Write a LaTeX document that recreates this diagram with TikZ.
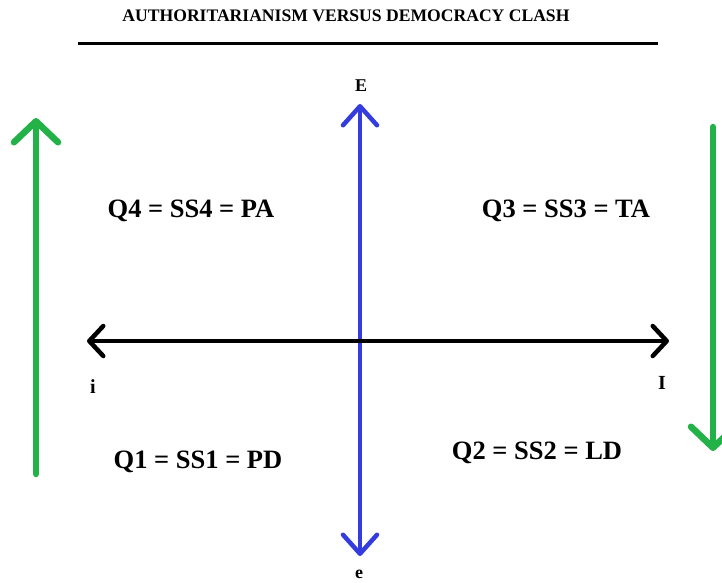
\documentclass[tikz,border=0pt]{standalone}
\usepackage{fontspec}
\setmainfont{Liberation Serif}
\usetikzlibrary{arrows.meta}
\definecolor{arrgreen}{RGB}{34,178,72}
\definecolor{arrblue}{RGB}{52,60,222}
\tikzset{
  lbl/.style={font=\fontsize{26.5}{30}\selectfont\bfseries, inner sep=0pt},
  axlbl/.style={font=\fontsize{18}{20}\selectfont\bfseries, inner sep=0pt},
  greenarr/.style={draw=arrgreen, line width=6.5pt, line cap=round, -{Straight Barb[length=21pt,width=44pt,line cap=round,line join=round]}},
  bluearr/.style={draw=arrblue, line width=4.5pt, line cap=round, {Straight Barb[length=19pt,width=34pt,line cap=round,line join=round]}-{Straight Barb[length=19pt,width=34pt,line cap=round,line join=round]}},
  blackarr/.style={draw=black, line width=4.5pt, line cap=round, {Straight Barb[length=14pt,width=30pt,line cap=round,line join=round]}-{Straight Barb[length=14pt,width=30pt,line cap=round,line join=round]}}
}
\begin{document}
\begin{tikzpicture}[x=1pt,y=-1pt]
\useasboundingbox (0,0) rectangle (722,582);
\node[font=\fontsize{17.6}{20}\selectfont\bfseries, inner sep=0pt] (title) at (346,16) {AUTHORITARIANISM VERSUS DEMOCRACY CLASH};
\coordinate (ruleL) at (78,43);
\coordinate (ruleR) at (658,43);
\draw[line width=3pt] (ruleL) -- (ruleR);

\coordinate (gLb) at (36,474);
\coordinate (gLt) at (36,118);
\draw[greenarr] (gLb) -- (gLt);

\coordinate (gRt) at (713,127);
\coordinate (gRb) at (713,451);
\draw[greenarr] (gRt) -- (gRb);

\node[axlbl] (E) at (361,86) {E};
\node[axlbl] (e) at (359,574) {e};
\coordinate (vT) at (360,104);
\coordinate (vB) at (360,556);
\draw[bluearr] (vB) -- (vT);

\node[axlbl, font=\fontsize{20}{22}\selectfont\bfseries] (i) at (93,387) {i};
\node[axlbl, font=\fontsize{20}{22}\selectfont\bfseries] (I) at (662,383) {I};
\coordinate (hL) at (87,341);
\coordinate (hR) at (669,341);
\draw[blackarr] (hL) -- (hR);

\node[lbl] (q4) at (191,211) {Q4 = SS4 = PA};
\node[lbl] (q3) at (566,211) {Q3 = SS3 = TA};
\node[lbl] (q1) at (198,462) {Q1 = SS1 = PD};
\node[lbl] (q2) at (537,453) {Q2 = SS2 = LD};
\end{tikzpicture}
\end{document}
